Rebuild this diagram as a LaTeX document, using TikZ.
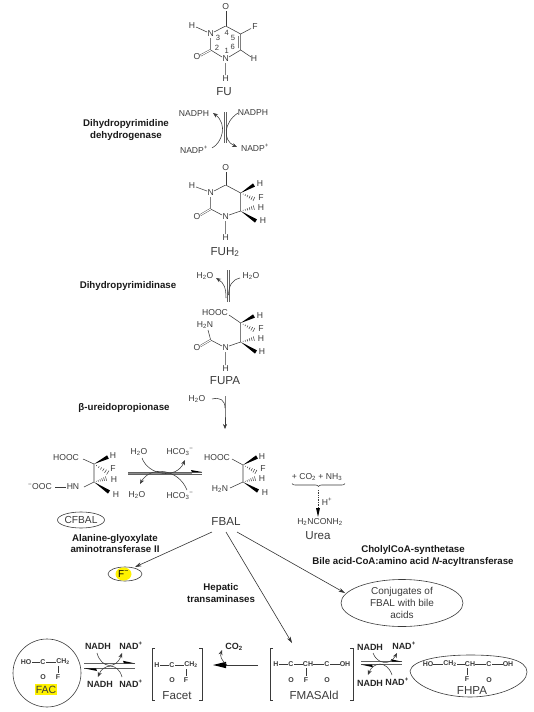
\documentclass[tikz,border=0pt]{standalone}
\usepackage{fontspec}
\setmainfont{Liberation Sans}
\usetikzlibrary{arrows.meta,calc,decorations.pathreplacing,shapes.geometric}
\definecolor{ink}{HTML}{3A3A3A}
\newcount\nodecount
\tikzset{
  atom/.style={inner sep=0pt,text=ink,font=\fontsize{8.6}{9}\selectfont},
  ringnum/.style={inner sep=0pt,text=ink,font=\fontsize{7.6}{8}\selectfont},
  boldatom/.style={inner sep=0pt,text=ink,font=\fontsize{7}{8}\selectfont\bfseries},
  cofactor/.style={inner sep=0pt,text=black!85,font=\fontsize{9}{9}\selectfont\bfseries},
  title/.style={inner sep=0pt,text=ink,font=\fontsize{11.6}{13}\selectfont},
  enzyme/.style={inner sep=0pt,align=center,text=black!90,font=\fontsize{9.7}{11.8}\selectfont\bfseries},
  bond/.style={draw=ink,line width=.55pt},
  dbond/.style={draw=ink,line width=.4pt,double=white,double distance=1.1pt},
  curve/.style={draw=ink,line width=.55pt},
  curvearrow/.style={curve,-{Stealth[length=5pt,width=4pt]}},
  main/.style={draw=black!80,line width=.6pt,-{Stealth[length=6.5pt,width=4pt]}},
  halfline/.style={draw=ink!80,line width=.6pt},
  blob/.style={draw=ink,line width=.6pt,ellipse,inner sep=0pt},
}
\newcommand\TX[4][atom]{\global\advance\nodecount by 1
  \node[#1] (n\the\nodecount) at (#2,#3) {#4};}
\newcommand\wdg[2]{\fill[black] (#1) -- ($(#2)!1.9pt!90:(#1)$) -- ($(#2)!1.9pt!-90:(#1)$) -- cycle;}
\newcommand\hsh[2]{\foreach \hh in {.16,.3,.44,.58,.72,.86,1}
  \draw[draw=ink,line width=.5pt] ($(#1)!\hh!(#2)!{\hh*2.6pt}!90:(#2)$) -- ($(#1)!\hh!(#2)!{\hh*2.6pt}!-90:(#2)$);}
\newcommand\sbr[1]{\textsubscript{#1}}
\newcommand\spr[1]{\textsuperscript{#1}}
\begin{document}
\begin{tikzpicture}[x=1pt,y=-1pt]
\useasboundingbox (0,0) rectangle (534,712);
% ---------- FU
\TX{225.7}{7}{O}\TX{210.7}{34}{N}\TX{225.7}{59}{N}\TX{255}{27}{F}\TX{254}{59}{H}\TX{192}{26}{H}\TX{197}{57}{O}\TX{225.7}{79}{H}
\TX[ringnum]{218}{38}{3}\TX[ringnum]{226.7}{33}{4}\TX[ringnum]{233}{38}{5}\TX[ringnum]{217}{48}{2}\TX[ringnum]{232.7}{47}{6}\TX[ringnum]{226.7}{51}{1}
\TX[title]{224}{92}{FU}
\draw[bond] (225.7,26)--(214,32) (210.7,38)--(210.7,50)--(222,57) (229,57)--(240.7,50) (240.7,34)--(225.7,26)
 (240.7,34)--(251,28.5) (240.7,50)--(251,57) (207,32)--(196,27) (225.7,63)--(225.7,75) (240.7,50)--(240.7,34) (238.4,48)--(238.4,36);
\draw[dbond] (225.7,26)--(225.7,11);
\draw[dbond] (210.7,50)--(200.5,55.5);
% ---------- NADPH step
\TX{194}{114}{NADPH}\TX{253}{113}{NADPH}\TX{194}{150}{NADP\spr{+}}\TX{255}{148}{NADP\spr{+}}
\TX[enzyme]{126}{130}{Dihydropyrimidine\\dehydrogenase}
\draw[halfline] (224,112)--(224,143) (226.4,112)--(226.4,143);
\draw[curvearrow] (212,148) .. controls (222,143) and (228,124) .. (213,113);
\draw[curvearrow] (238,113) .. controls (224,122) and (222,140) .. (237,147);
% ---------- FUH2
\TX{225.7}{168}{O}\TX{210.7}{193}{N}\TX{225.7}{217}{N}\TX{192}{186}{H}\TX{197}{217}{O}\TX{225.7}{238}{H}
\TX{260}{184}{H}\TX{261}{198}{F}\TX{261}{208}{H}\TX{263}{221}{H}
\TX[title]{225}{252}{FUH\sbr{2}}
\draw[bond] (225.7,185)--(214,191) (210.7,197)--(210.7,209)--(222,215) (229,215)--(240.7,211)--(240.7,193)--(225.7,185)
 (207,191)--(196,187) (225.7,221)--(225.7,234);
\draw[dbond] (225.7,185)--(225.7,172);
\draw[dbond] (210.7,209)--(200.5,215);
\coordinate (a1) at (240.7,193);\coordinate (a2) at (240.7,211);
\wdg{a1}{254,185}\wdg{a2}{256,221}\hsh{a1}{256,200}\hsh{a2}{256,207}
% ---------- second step
\TX{205}{276}{H\sbr{2}O}\TX{251}{276}{H\sbr{2}O}
\TX[enzyme]{128}{286}{Dihydropyrimidinase}
\draw[halfline] (227,270)--(227,302) (228.8,270)--(228.8,302);
\draw[curvearrow] (226,298) .. controls (226,288) and (224,283) .. (216,278);
\draw[curve] (240,278) .. controls (232,280) and (229,285) .. (228.5,295);
% ---------- FUPA
\TX{215}{313}{HOOC}\TX{205}{325}{H\sbr{2}N}\TX{225.7}{348}{N}\TX{197}{348}{O}\TX{225.7}{369}{H}
\TX{260}{316}{H}\TX{261}{329}{F}\TX{261}{339}{H}\TX{262}{352}{H}
\TX[title]{225}{381}{FUPA}
\draw[bond] (229,315)--(240.7,323)--(240.7,342)--(229,346) (222,346)--(210.7,340)--(208,330) (225.7,352)--(225.7,365);
\draw[dbond] (210.7,340)--(200.5,346);
\coordinate (b1) at (240.7,323);\coordinate (b2) at (240.7,342);
\wdg{b1}{254,316}\wdg{b2}{256,352}\hsh{b1}{256,331}\hsh{b2}{256,338}
% ---------- third step
\TX{197}{399}{H\sbr{2}O}
\TX[enzyme]{124}{408}{β-ureidopropionase}
\draw[curve] (212,399) .. controls (220,397) and (225,400) .. (225,408);
\draw[curvearrow] (225,396)--(225,409)--(225,429);
% ---------- CFBAL structure
\TX{66}{458}{HOOC}\TX{113}{456}{H}\TX{113}{469}{F}\TX{114}{480}{H}\TX{116}{495}{H}\TX{73}{487}{HN}\TX{40}{487}{\spr{−}OOC}
\draw[bond] (83,459)--(94,464)--(94,482)--(84,487);
\draw[draw=ink,line width=1pt] (55,487)--(66,487);
\coordinate (c1) at (94,464);\coordinate (c2) at (94,482);
\wdg{c1}{108,457}\wdg{c2}{109,492}\hsh{c1}{110,474}\hsh{c2}{108,478}
% reaction arrows
\draw[draw=black!45,line width=1.1pt] (128,473.4)--(192,473.4);
\draw[halfline] (128,472)--(202,472) (128,474.6)--(202,474.6);
\fill[black] (202,472)--(192,472)--(191,470)--cycle;
\TX{139}{452}{H\sbr{2}O}\TX{180}{452}{HCO\sbr{3}\spr{−}}\TX{137}{495}{H\sbr{2}O}\TX{180}{496}{HCO\sbr{3}\spr{−}}
\draw[curvearrow] (142,458) .. controls (148,475) and (176,480) .. (185,460);
\draw[curvearrow] (187,490) .. controls (178,468) and (150,466) .. (140,484);
% ---------- FBAL structure
\TX{217}{458}{HOOC}\TX{262}{457}{H}\TX{263}{469}{F}\TX{262}{479}{H}\TX{265}{493}{H}\TX{220}{489}{H\sbr{2}N}
\draw[bond] (232,459)--(243,465)--(243,482)--(230,488);
\coordinate (d1) at (243,465);\coordinate (d2) at (243,482);
\wdg{d1}{257,457}\wdg{d2}{258,491}\hsh{d1}{258,473}\hsh{d2}{257,478}
% ---------- urea
\TX{317}{477}{+ CO\sbr{2} + NH\sbr{3}}
\draw[draw=ink,line width=.55pt,decorate,decoration={brace,mirror,amplitude=3pt}] (292,483.5)--(345,483.5);
\TX[atom]{327}{502}{H\spr{+}}
\TX{320}{522}{H\sbr{2}NCONH\sbr{2}}
\TX[title]{318}{536}{Urea}
\draw[draw=ink,line width=.7pt,densely dotted] (318,490)--(318,509);
\fill[black] (318,517)--(316,508)--(320,508)--cycle;
% ---------- FBAL hub
\node[title] (FBAL) at (226,522) {FBAL};
\node[blob,minimum width=47pt,minimum height=16pt,font=\fontsize{10.2}{11}\selectfont,text=ink] (CFBAL) at (81,520) {CFBAL};
\TX[enzyme]{115}{543.5}{Alanine-glyoxylate\\aminotransferase II}
\TX[enzyme]{221}{593}{Hepatic\\transaminases}
\TX[enzyme]{413}{556}{CholylCoA-synthetase\\Bile acid-CoA:amino acid \textit{N}-acyltransferase}
\node[blob,minimum width=34pt,minimum height=14pt] (Fm) at (125,574) {};
\fill[yellow] (123.5,574) ellipse (8pt and 6.6pt);
\node[inner sep=0pt,text=black,font=\fontsize{10}{12}\selectfont] (Ftxt) at (123.5,574) {F\spr{−}};
\node[blob,minimum width=122pt,minimum height=47pt] (conj) at (402,603) {};
\node[inner sep=0pt,align=center,text=ink,font=\fontsize{10}{12}\selectfont] (conjtxt) at (402,603) {Conjugates of\\FBAL with bile\\acids};
\coordinate (fm) at (292,643);
\coordinate (o1) at (212,532);\coordinate (o2) at (226,532);\coordinate (o3) at (237,532);
\coordinate (t1) at (135,567);\coordinate (t3) at (345,593);
\draw[main] (o1) -- (t1);
\draw[main] (o2) -- (fm);
\draw[main] (o3) -- (t3);
% ---------- FAC
\node[draw=ink,line width=.6pt,circle,minimum size=68pt,inner sep=0pt] (FACc) at (47,673) {};
\TX[boldatom]{26}{662}{HO}\TX[boldatom]{43}{662}{C}\TX[boldatom]{63}{662}{CH\sbr{2}}\TX[boldatom]{43}{677}{O}\TX[boldatom]{58}{677}{F}
\draw[bond] (32,662)--(40,662) (46,662)--(56,662) (58,666)--(58,673);
\draw[dbond] (43,666)--(43,673);
\node[fill=yellow,inner sep=0pt,minimum width=22pt,minimum height=11pt,text=ink,font=\fontsize{10.5}{12}\selectfont] (FAC) at (46,689.5) {FAC};
% NADH step 1
\TX[cofactor]{98}{646}{NADH}\TX[cofactor]{131}{646}{NAD\spr{+}}\TX[cofactor]{100}{684}{NADH}\TX[cofactor]{131}{684}{NAD\spr{+}}
\draw[halfline] (84,663.4)--(135,663.4) (84,668.3)--(135,668.3);
\fill[black] (135,663.4)--(124,663.4)--(123,660.8)--cycle;
\fill[black] (84,668.3)--(96,668.3)--(97,671)--cycle;
\draw[curvearrow] (97,653) .. controls (101,668) and (116,670) .. (122,653);
\draw[curvearrow] (122,677) .. controls (118,662) and (103,664) .. (98,677);
% Facet
\draw[bond] (155,648)--(152,648)--(152,700)--(155,700) (199,648)--(202,648)--(202,700)--(199,700);
\TX[boldatom]{157}{665}{H}\TX[boldatom]{172}{665}{C}\TX[boldatom]{191}{665}{CH\sbr{2}}\TX[boldatom]{172}{680}{O}\TX[boldatom]{186}{680}{F}
\draw[bond] (160,665)--(169,665) (175,665)--(184,665) (186,669)--(186,676);
\draw[dbond] (172,669)--(172,676);
\TX[title]{177}{696}{Facet}
% arrow to Facet
\draw[draw=ink,line width=.7pt] (258,665)--(222,665);
\fill[black] (213,665)--(226,661.8)--(226,668.2)--cycle;
\draw[curvearrow] (227,665) .. controls (221,660) and (220,656) .. (222,650);
\TX[cofactor]{234}{647}{CO\sbr{2}}
% FMASAld
\draw[bond] (273,648)--(270,648)--(270,700)--(273,700) (350,648)--(353,648)--(353,700)--(350,700);
\TX[boldatom]{276}{664}{H}\TX[boldatom]{291}{664}{C}\TX[boldatom]{308}{664}{CH}\TX[boldatom]{327}{664}{C}\TX[boldatom]{345}{664}{OH}
\TX[boldatom]{291}{680}{O}\TX[boldatom]{306}{680}{F}\TX[boldatom]{327}{680}{O}
\draw[bond] (279,664)--(288,664) (294,664)--(303,664) (313,664)--(324,664) (330,664)--(340,664) (306,668)--(306,676);
\draw[dbond] (291,668)--(291,676);
\draw[dbond] (327,668)--(327,676);
\TX[title]{314}{695}{FMASAld}
% NADH step 2
\TX[cofactor]{370}{647}{NADH}\TX[cofactor]{404}{646}{NAD\spr{+}}\TX[cofactor]{370}{683}{NADH}\TX[cofactor]{397}{682}{NAD\spr{+}}
\draw[halfline] (361,661.7)--(402,661.7) (361,664.6)--(402,664.6);
\fill[black] (402,661.7)--(392,661.7)--(391,659.2)--cycle;
\fill[black] (361,664.6)--(372,664.6)--(373,667.2)--cycle;
\draw[curvearrow] (373,653) .. controls (377,664) and (390,666) .. (397,653);
\draw[curvearrow] (392,675) .. controls (387,660) and (373,662) .. (368,675);
% FHPA
\draw[draw=ink,line width=.6pt] (410,671) .. controls (412,660) and (440,655) .. (470,655) .. controls (505,655) and (527,660) .. (527,672) .. controls (527,685) and (500,697) .. (470,697) .. controls (440,697) and (412,685) .. (410,671) -- cycle;
\TX[boldatom]{428}{664}{HO}\TX[boldatom]{450}{664}{CH\sbr{2}}\TX[boldatom]{470}{664}{CH}\TX[boldatom]{489}{664}{C}\TX[boldatom]{508}{664}{OH}
\TX[boldatom]{467}{679}{F}\TX[boldatom]{489}{680}{O}
\draw[bond] (433,664)--(443,664) (457,664)--(465,664) (475,664)--(486,664) (492,664)--(503,664) (467,668)--(467,675);
\draw[dbond] (489,668)--(489,676);
\TX[title]{472}{691}{FHPA}
\end{tikzpicture}
\end{document}
